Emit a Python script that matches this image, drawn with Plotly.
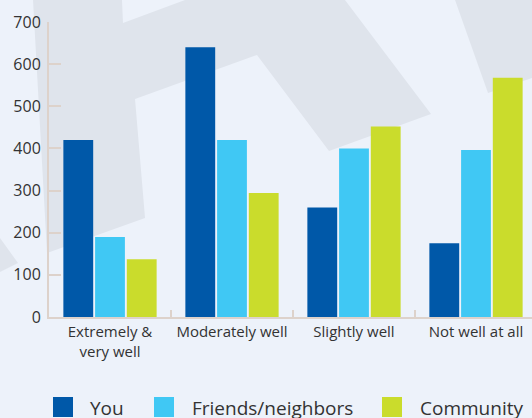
import plotly.graph_objects as go

categories = ["Extremely &<br>very well", "Moderately well", "Slightly well", "Not well at all"]
series_names = ["You", "Friends/neighbors", "Community"]
you = [420, 640, 260, 175]
friends = [190, 420, 400, 396]
community = [137, 294, 452, 568]
colors = ["#0058A8", "#40C8F4", "#CADC2C"]
y_ticks = [0, 100, 200, 300, 400, 500, 600, 700]

W, H = 532, 418
L, R, T, B = 49, 0, 22, 101
PW, PH = W - L - R, H - T - B

def px(x):
    return (x - L) / PW

def py(y):
    return (T + PH - y) / PH

def path(points):
    s = "M " + " L ".join(f"{px(x):.4f},{py(y):.4f}" for x, y in points) + " Z"
    return s

BG = "#EDF2FA"
GRAY = "#DFE4EC"
AXIS = "#DDD2CB"

fig = go.Figure()
for name, vals, c in zip(series_names, [you, friends, community], colors):
    fig.add_trace(go.Bar(name=name, x=categories, y=vals, marker=dict(color=c, line=dict(width=0)), showlegend=False))

shapes = []
polys = [
    [(33, 0), (122, 0), (123, 23), (185, 0), (345, 0), (431, 114), (329, 151), (257, 55), (135, 99), (145, 218), (47, 253)],
    [(455, 0), (532, 0), (532, 78), (488, 93)],
    [(0, 238), (18, 263), (0, 272)],
]
for p in polys:
    shapes.append(dict(type="path", xref="paper", yref="paper", path=path(p), fillcolor=GRAY, line=dict(width=0), layer="below"))

# legend
legend_items = [(53, 88), (154, 190), (382, 418)]
annotations = []
for (sx, tx), name, c in zip(legend_items, series_names, colors):
    shapes.append(dict(type="rect", xref="paper", yref="paper", x0=px(sx), x1=px(sx + 20), y0=py(417), y1=py(397), fillcolor=c, line=dict(width=0)))
    annotations.append(dict(text=name, xref="paper", yref="paper", x=px(tx), y=py(408), xanchor="left", yanchor="middle", showarrow=False, font=dict(size=19, color="#333333", family="Open Sans")))

fig.update_layout(
    width=W, height=H,
    margin=dict(l=L, r=R, t=T, b=B, pad=0),
    paper_bgcolor=BG, plot_bgcolor="rgba(0,0,0,0)",
    barmode="group", bargap=0.22, bargroupgap=0.06,
    shapes=shapes, annotations=annotations,
    font=dict(family="Open Sans", color="#333333"),
)
fig.update_xaxes(
    range=[-0.5, 3.459], showgrid=False, showline=True, linecolor=AXIS, linewidth=2,
    ticks="inside", tickson="boundaries", ticklen=7, tickwidth=2, tickcolor=AXIS,
    tickfont=dict(size=15, color="#333333"), fixedrange=True,
)
fig.update_yaxes(
    range=[0, 700], tickvals=y_ticks, showgrid=False, zeroline=False, showline=True, linecolor=AXIS, linewidth=2,
    ticks="inside", ticklen=12, tickwidth=2, tickcolor=AXIS,
    tickfont=dict(size=16, color="#333333"), ticklabelstandoff=3,
)

fig.write_html("out.html", config={"displayModeBar": False})
with open("out.html", "r", encoding="utf-8") as f:
    html = f.read()
html = html.replace("<head>", "<head><style>html,body{margin:0;padding:0;overflow:hidden;}</style>", 1)
with open("out.html", "w", encoding="utf-8") as f:
    f.write(html)
